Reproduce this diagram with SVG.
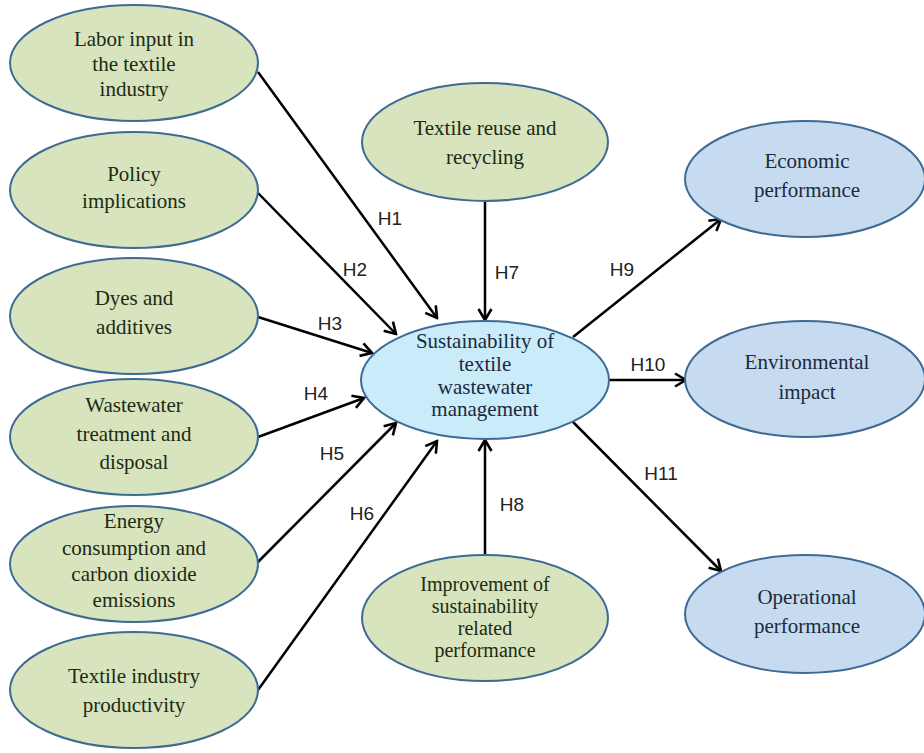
<svg xmlns="http://www.w3.org/2000/svg" width="924" height="753" viewBox="0 0 924 753">
<defs>
<marker id="arr" markerUnits="userSpaceOnUse" viewBox="-13 -8 15 16" markerWidth="15" markerHeight="16" refX="0" refY="0" orient="auto">
<path d="M-11,-6.5 L0,0 L-11,6.5" fill="none" stroke="#000" stroke-width="2.6" stroke-linejoin="miter"/>
</marker>
<style>
.g{fill:#d7e4bd;stroke:#3e6a94;stroke-width:2}
.c{fill:#c9ebfa;stroke:#3e6a94;stroke-width:2}
.b{fill:#c6daf0;stroke:#3e6a94;stroke-width:2}
.t{font-family:"Liberation Serif","Times New Roman",serif;font-size:21px;text-anchor:middle;fill:#1d2a14}
.s{font-size:20px}
.tb{font-family:"Liberation Serif","Times New Roman",serif;font-size:21px;text-anchor:middle;fill:#1b2a3a}
.l{font-family:"Liberation Sans",Arial,sans-serif;font-size:19px;text-anchor:middle;fill:#222}
.a{stroke:#000;stroke-width:2.5;fill:none;marker-end:url(#arr)}
</style>
</defs>
<rect width="924" height="753" fill="#fff"/>
<g id="connectors">
<line class="a" x1="258" y1="72" x2="437" y2="318"/>
<line class="a" x1="258" y1="193" x2="396" y2="334"/>
<line class="a" x1="258" y1="317" x2="372" y2="353"/>
<line class="a" x1="258" y1="437" x2="364" y2="398"/>
<line class="a" x1="258" y1="562" x2="396" y2="423"/>
<line class="a" x1="258" y1="690" x2="437" y2="441"/>
<line class="a" x1="485" y1="201" x2="485" y2="320"/>
<line class="a" x1="485" y1="555" x2="485" y2="440"/>
<line class="a" x1="573" y1="337" x2="721" y2="219"/>
<line class="a" x1="609" y1="380" x2="686" y2="380"/>
<line class="a" x1="573" y1="422" x2="721" y2="571"/>
<text class="l" x="390" y="225">H1</text>
<text class="l" x="355" y="276">H2</text>
<text class="l" x="330" y="330">H3</text>
<text class="l" x="316" y="400">H4</text>
<text class="l" x="332" y="460">H5</text>
<text class="l" x="362" y="520">H6</text>
<text class="l" x="507" y="279">H7</text>
<text class="l" x="512" y="511">H8</text>
<text class="l" x="622" y="276">H9</text>
<text class="l" x="648" y="371">H10</text>
<text class="l" x="661" y="480">H11</text>
</g>
<g id="labor"><ellipse class="g" cx="134" cy="63" rx="124" ry="58"/>
<text class="t" x="134" y="46">Labor input in</text><text class="t" x="134" y="71">the textile</text><text class="t" x="134" y="96">industry</text></g>
<g id="policy"><ellipse class="g" cx="134" cy="190" rx="124" ry="58"/>
<text class="t" x="134" y="181">Policy</text><text class="t" x="134" y="208">implications</text></g>
<g id="dyes"><ellipse class="g" cx="134" cy="316" rx="124" ry="58"/>
<text class="t" x="134" y="305">Dyes and</text><text class="t" x="134" y="334">additives</text></g>
<g id="wastewater"><ellipse class="g" cx="134" cy="437" rx="124" ry="58"/>
<text class="t" x="134" y="412">Wastewater</text><text class="t" x="134" y="441">treatment and</text><text class="t" x="134" y="469">disposal</text></g>
<g id="energy"><ellipse class="g" cx="134" cy="564" rx="124" ry="58"/>
<text class="t" x="134" y="528">Energy</text><text class="t" x="134" y="555">consumption and</text><text class="t" x="134" y="581">carbon dioxide</text><text class="t" x="134" y="607">emissions</text></g>
<g id="productivity"><ellipse class="g" cx="134" cy="690" rx="124" ry="58"/>
<text class="t" x="134" y="683">Textile industry</text><text class="t" x="134" y="712">productivity</text></g>
<g id="reuse"><ellipse class="g" cx="485" cy="142" rx="123" ry="59"/>
<text class="t" x="485" y="135">Textile reuse and</text><text class="t" x="485" y="164">recycling</text></g>
<g id="sustainability"><ellipse class="c" cx="485" cy="380" rx="124" ry="59"/>
<text class="tb" x="485" y="348">Sustainability of</text><text class="tb" x="485" y="371">textile</text><text class="tb" x="485" y="394">wastewater</text><text class="tb" x="485" y="416">management</text></g>
<g id="improvement"><ellipse class="g" cx="485" cy="618" rx="123" ry="63"/>
<text class="t s" x="485" y="591">Improvement of</text><text class="t s" x="485" y="613">sustainability</text><text class="t s" x="485" y="635">related</text><text class="t s" x="485" y="657">performance</text></g>
<g id="economic"><ellipse class="b" cx="805" cy="179" rx="120" ry="58"/>
<text class="tb" x="807" y="168">Economic</text><text class="tb" x="807" y="197">performance</text></g>
<g id="environmental"><ellipse class="b" cx="805" cy="379" rx="120" ry="58"/>
<text class="tb" x="807" y="369">Environmental</text><text class="tb" x="807" y="399">impact</text></g>
<g id="operational"><ellipse class="b" cx="805" cy="614" rx="120" ry="59"/>
<text class="tb" x="807" y="604">Operational</text><text class="tb" x="807" y="633">performance</text></g>
</svg>
